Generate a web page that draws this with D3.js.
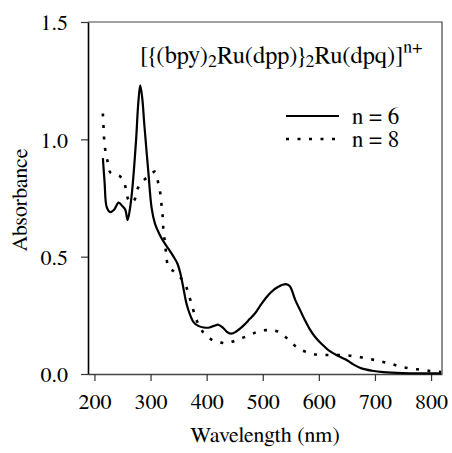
<!DOCTYPE html>
<html><head><meta charset="utf-8">
<script src="https://cdn.jsdelivr.net/npm/d3@7"></script>
</head><body style="margin:0">
<script>
// data
const xTicks = [200, 300, 400, 500, 600, 700, 800];
const yTicks = [0.0, 0.5, 1.0, 1.5];
const seriesNames = ["n = 6", "n = 8"];
const wl6 = [215,218,222,228,235,243,250,255,259,263,267,274,278,281.5,285,289,296,302,308,315,323,333,341,348,354,359,364,370,377,385,395,405,413,421,430,437,444,452,465,477,486,498,510,520,528,535,541,548,558,567,575,584,593,605,617,632,647,662,676,695,715,750,780,818];
const abs6 = [0.92,0.82,0.71,0.69,0.70,0.73,0.715,0.70,0.656,0.70,0.777,0.99,1.15,1.23,1.18,1.06,0.862,0.706,0.64,0.60,0.565,0.53,0.50,0.47,0.42,0.36,0.30,0.255,0.22,0.205,0.198,0.198,0.205,0.21,0.195,0.178,0.172,0.18,0.205,0.235,0.258,0.30,0.337,0.36,0.372,0.38,0.383,0.375,0.315,0.27,0.23,0.19,0.159,0.128,0.102,0.08,0.063,0.04,0.024,0.014,0.008,0.004,0.003,0.003];
const wl8 = [215,216,217,219,223,228,236,244,250,255,260,265,271,277,285,293,300,308,314,318,320,322,323,326,328,332,340,350,362,371,382,393,404,412,424,436,445,454,465,477,488,497,507,516,528,540,550,561,571,581,590,602,614,626,647,668,690,709,730,751,775,798,818];
const abs8 = [1.11,1.06,1.01,0.96,0.91,0.86,0.85,0.845,0.83,0.80,0.745,0.73,0.74,0.79,0.82,0.836,0.85,0.862,0.81,0.76,0.706,0.66,0.606,0.557,0.507,0.455,0.44,0.42,0.38,0.315,0.23,0.18,0.155,0.142,0.135,0.13,0.137,0.145,0.155,0.166,0.178,0.185,0.187,0.187,0.18,0.159,0.135,0.114,0.1,0.091,0.085,0.081,0.081,0.081,0.08,0.074,0.064,0.055,0.042,0.029,0.02,0.013,0.008];

const FONT = "FreeSerif";
const W = 452, H = 453;
const m = {left: 88, top: 22, right: 442, bottom: 374};
const svg = d3.select("body").append("svg").attr("width", W).attr("height", H).style("display", "block");
const x = d3.scaleLinear().domain([188.5, 819.5]).range([m.left, m.right]);
const y = d3.scaleLinear().domain([0, 1.5]).range([m.bottom, m.top]);

// frame (top, right)
svg.append("path").attr("d", `M${m.left},${m.top}H${m.right}V${m.bottom}`)
  .attr("fill", "none").attr("stroke", "#444").attr("stroke-width", 1.2);

// axes
const gx = svg.append("g").attr("transform", `translate(0,${m.bottom})`)
  .call(d3.axisBottom(x).tickValues(xTicks).tickSize(7).tickSizeOuter(0).tickPadding(22).tickFormat(d3.format("d")));
const gy = svg.append("g").attr("transform", `translate(${m.left},0)`)
  .call(d3.axisLeft(y).tickValues(yTicks).tickSize(7).tickSizeOuter(0).tickPadding(13).tickFormat(d3.format(".1f")));
[gx, gy].forEach(g => {
  g.attr("font-family", null).attr("font-size", null);
  g.selectAll("text").style("font-family", FONT).attr("font-size", 22).attr("fill", "#000");
  g.selectAll("line").attr("stroke", "#333").attr("stroke-width", 1.2);
});
gx.select(".domain").attr("stroke", "#444").attr("stroke-width", 1.5);
gy.select(".domain").attr("stroke", "#000").attr("stroke-width", 1.6);
gx.selectAll("text").attr("dy", "0.25em");
gy.selectAll("text").attr("dy", "0.35em");

// curves
const line = d3.line().x(d => x(d[0])).y(d => y(d[1])).curve(d3.curveCatmullRom.alpha(0.5));
svg.append("path").datum(wl6.map((w, i) => [w, abs6[i]]))
  .attr("d", line).attr("fill", "none").attr("stroke", "#000").attr("stroke-width", 2.2);
svg.append("path").datum(wl8.map((w, i) => [w, abs8[i]]))
  .attr("d", line).attr("fill", "none").attr("stroke", "#000").attr("stroke-width", 2.6)
  .attr("stroke-dasharray", "3,8.5");

function txt(sel, fs) { return sel.style("font-family", FONT).attr("font-size", fs || 22).attr("fill", "#000"); }

// title
const t = txt(svg.append("text").attr("x", 140).attr("y", 63), 24.5);
t.append("tspan").text("[{(bpy)");
t.append("tspan").attr("font-size", 18).attr("dy", 4).text("2");
t.append("tspan").attr("dy", -4).text("Ru(dpp)}");
t.append("tspan").attr("font-size", 18).attr("dy", 4).text("2");
t.append("tspan").attr("dy", -4).text("Ru(dpq)]");
t.append("tspan").attr("font-size", 18).attr("dy", -10).text("n+");

// legend
const lg = [{y: 116, dash: null, w: 2.2}, {y: 139, dash: "3,8.5", w: 2.6}];
lg.forEach((d, i) => {
  svg.append("line").attr("x1", 286).attr("x2", 339).attr("y1", d.y).attr("y2", d.y)
    .attr("stroke", "#000").attr("stroke-width", d.w).attr("stroke-dasharray", d.dash);
  txt(svg.append("text").attr("x", 352).attr("y", d.y + 8), 23).text(seriesNames[i]);
});

// axis titles
txt(svg.append("text").attr("transform", "translate(27,200) rotate(-90)").attr("text-anchor", "middle")).text("Absorbance");
txt(svg.append("text").attr("x", 265).attr("y", 442).attr("text-anchor", "middle")).text("Wavelength (nm)");
</script>
</body></html>
